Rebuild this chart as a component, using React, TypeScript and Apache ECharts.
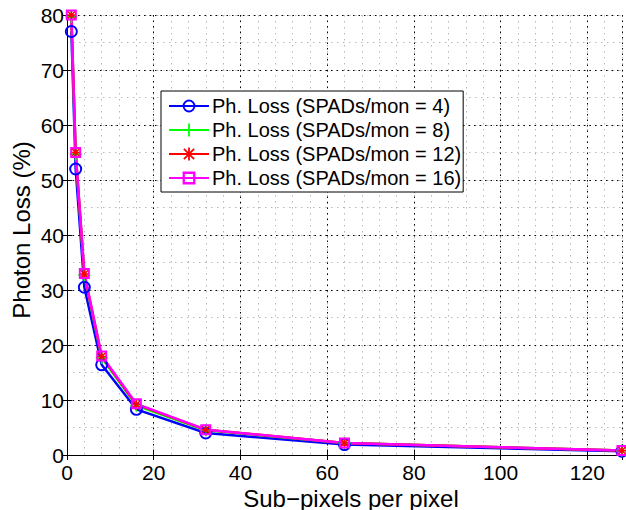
import React, { useEffect, useRef } from "react";
import * as echarts from "echarts";

const subPixels = [1, 2, 4, 8, 16, 32, 64, 128];
const loss4 = [77, 52, 30.5, 16.4, 8.3, 4.0, 1.9, 0.7];
const loss8 = [79.7, 54.7, 32.7, 17.7, 9.0, 4.5, 2.2, 0.8];
const loss12 = [80, 55, 32.9, 17.9, 9.2, 4.6, 2.2, 0.8];
const loss16 = [80, 55, 33, 18, 9.3, 4.6, 2.2, 0.8];
const seriesNames = [
  "Ph. Loss (SPADs/mon = 4)",
  "Ph. Loss (SPADs/mon = 8)",
  "Ph. Loss (SPADs/mon = 12)",
  "Ph. Loss (SPADs/mon = 16)",
];
const xTitle = "Sub\u2212pixels per pixel";
const yTitle = "Photon Loss (%)";

const FONT = "'Liberation Sans', Arial, Helvetica, sans-serif";

const ringPath =
  "path://M5,0 A5,5 0 1,1 5,10 A5,5 0 1,1 5,0 Z M5,1.5 A3.5,3.5 0 1,0 5,8.5 A3.5,3.5 0 1,0 5,1.5 Z";
const plusPath =
  "path://M4.3,0 H5.7 V4.3 H10 V5.7 H5.7 V10 H4.3 V5.7 H0 V4.3 H4.3 Z";
const starPath =
  "path://M4.3,0 H5.7 V10 H4.3 Z M0,4.3 H10 V5.7 H0 Z M1.5,0.5 L9.5,8.5 L8.5,9.5 L0.5,1.5 Z M8.5,0.5 L9.5,1.5 L1.5,9.5 L0.5,8.5 Z";
const squarePath =
  "path://M0,0 H10 V10 H0 Z M1.8,1.8 V8.2 H8.2 V1.8 Z";

export default function App() {
  const ref = useRef<HTMLDivElement>(null);
  useEffect(() => {
    if (!ref.current) return;
    const chart = echarts.init(ref.current, null, { renderer: "svg" });
    const mk = (
      name: string,
      data: number[],
      color: string,
      symbol: string,
      size: number
    ) => ({
      name,
      type: "line",
      xAxisIndex: 0,
      yAxisIndex: 0,
      data: subPixels.map((x, i) => [x, data[i]]),
      symbol,
      symbolSize: size,
      clip: false,
      lineStyle: { color, width: 2.5 },
      itemStyle: { color },
      emphasis: { disabled: true },
    });
    const grid = { left: 67, top: 15, right: 4, bottom: 55 };
    chart.setOption({
      animation: false,
      backgroundColor: "#ffffff",
      grid: { ...grid, show: false },
      xAxis: [
        {
          type: "value",
          min: 0,
          max: 128,
          interval: 20,
          position: "bottom",
          z: 2,
          axisLine: { show: true, lineStyle: { color: "#000", width: 1 } },
          axisTick: { show: true, inside: true, length: 5, lineStyle: { color: "#000" } },
          axisLabel: {
            show: true,
            color: "#000",
            fontFamily: FONT,
            fontSize: 21,
            lineHeight: 18,
            margin: 8,
            showMaxLabel: false,
          },
          splitLine: { show: true, lineStyle: { color: "#000", width: 1, type: [1.5, 4] } },
        },
        {
          type: "value",
          min: 0,
          max: 128,
          interval: 4,
          position: "bottom",
          z: 1,
          axisLine: { show: false },
          axisTick: { show: false },
          axisLabel: { show: false },
          splitLine: { show: true, lineStyle: { color: "#b8b8b8", width: 1, type: [1.5, 4.5] } },
        },
        {
          type: "value",
          min: 0,
          max: 128,
          interval: 20,
          position: "top",
          z: 2,
          axisLine: { show: true, lineStyle: { color: "#000", width: 1 } },
          axisTick: { show: true, inside: true, length: 5, lineStyle: { color: "#000" } },
          axisLabel: { show: false },
          splitLine: { show: false },
        },
      ],
      yAxis: [
        {
          type: "value",
          min: 0,
          max: 80,
          interval: 10,
          position: "left",
          z: 2,
          axisLine: { show: true, lineStyle: { color: "#000", width: 1 } },
          axisTick: { show: true, inside: true, length: 5, lineStyle: { color: "#000" } },
          axisLabel: {
            show: true,
            color: "#000",
            fontFamily: FONT,
            fontSize: 21,
            margin: 3,
          },
          splitLine: { show: true, lineStyle: { color: "#000", width: 1, type: [1.5, 4] } },
        },
        {
          type: "value",
          min: 0,
          max: 80,
          interval: 5,
          position: "left",
          z: 1,
          axisLine: { show: false },
          axisTick: { show: false },
          axisLabel: { show: false },
          splitLine: { show: true, lineStyle: { color: "#b8b8b8", width: 1, type: [1.5, 4.5] } },
        },
        {
          type: "value",
          min: 0,
          max: 80,
          interval: 10,
          position: "right",
          z: 2,
          axisLine: { show: true, lineStyle: { color: "#000", width: 1 } },
          axisTick: { show: true, inside: true, length: 5, lineStyle: { color: "#000" } },
          axisLabel: { show: false },
          splitLine: { show: false },
        },
      ],
      legend: {
        show: true,
        left: 161,
        top: 91,
        orient: "vertical",
        backgroundColor: "#ffffff",
        borderColor: "#000",
        borderWidth: 1,
        padding: [5, 2, 4, 7],
        itemGap: 4,
        itemWidth: 40,
        itemHeight: 16,
        z: 10,
        textStyle: {
          color: "#000",
          fontFamily: FONT,
          fontSize: 20,
          lineHeight: 20,
          padding: [0, 0, 0, -2],
        },
        data: seriesNames,
      },
      series: [
        mk(seriesNames[0], loss4, "#0000ff", ringPath, 13),
        mk(seriesNames[1], loss8, "#00ff00", plusPath, 12),
        mk(seriesNames[2], loss12, "#ff0000", starPath, 10),
        mk(seriesNames[3], loss16, "#ff00ff", squarePath, 11),
      ],
      graphic: [
        {
          type: "text",
          x: 351,
          y: 498,
          style: {
            text: xTitle,
            fontFamily: FONT,
            fontSize: 24,
            fill: "#000",
            align: "center",
            verticalAlign: "middle",
          },
        },
        {
          type: "text",
          x: 21,
          y: 230,
          rotation: Math.PI / 2,
          style: {
            text: yTitle,
            fontFamily: FONT,
            fontSize: 24,
            fill: "#000",
            align: "center",
            verticalAlign: "middle",
          },
        },
      ],
    });
    return () => chart.dispose();
  }, []);
  return (
    <div
      ref={ref}
      style={{ position: "fixed", left: 0, top: 0, width: 626, height: 510 }}
    />
  );
}
